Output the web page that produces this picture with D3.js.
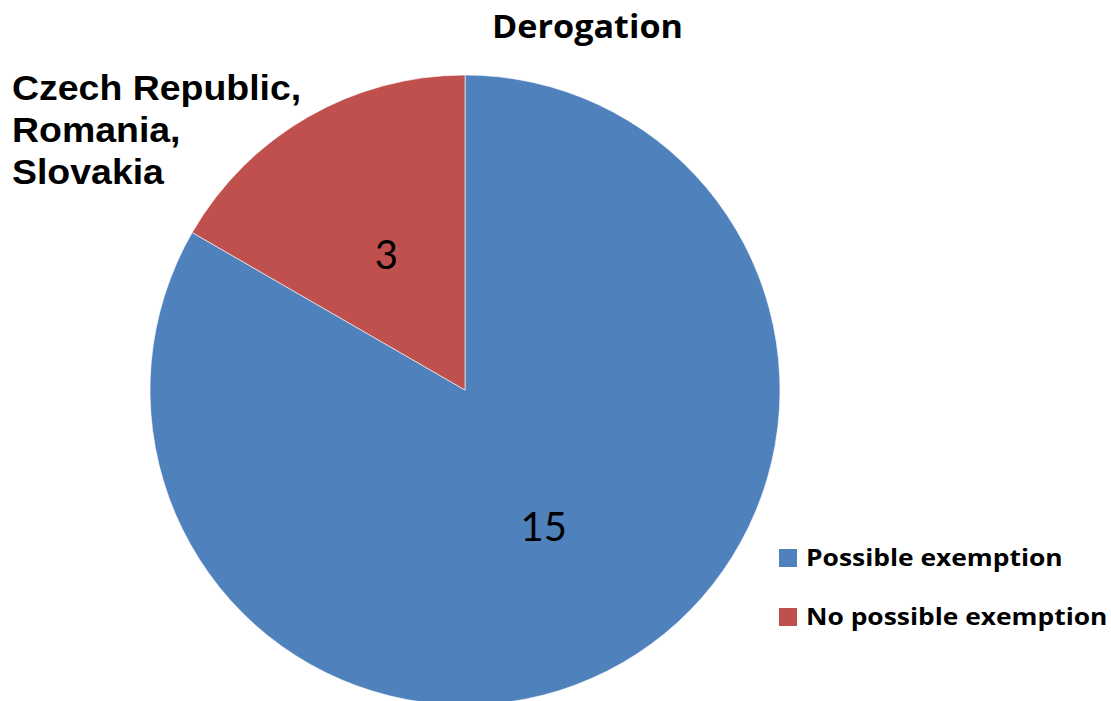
<!DOCTYPE html>
<html>
<head>
<meta charset="utf-8">
<script src="https://cdn.jsdelivr.net/npm/d3@7"></script>
<style>
html,body{margin:0;padding:0;background:#fff;}
svg{display:block;}
text{font-variant-ligatures:none;}
</style>
</head>
<body>
<svg id="chart" width="1111" height="701"></svg>
<script>
const categories = ["Possible exemption", "No possible exemption"];
const values = [15, 3];
const colors = ["#4F81BD", "#C0504D"];
const title = "Derogation";
const annotationLines = ["Czech Republic,", "Romania,", "Slovakia"];

const svg = d3.select("#chart");
const cx = 465, cy = 390, R = 315;

const data = categories.map((c, i) => ({ name: c, value: values[i], color: colors[i] }));
const pie = d3.pie().value(d => d.value).sort(null);
const arc = d3.arc().innerRadius(0).outerRadius(R);
const arcs = pie(data);

const g = svg.append("g").attr("transform", `translate(${cx},${cy})`);
g.selectAll("path").data(arcs).enter().append("path")
  .attr("d", arc)
  .attr("fill", d => d.data.color)
  .attr("stroke", "#ffffff")
  .attr("stroke-opacity", 0.6)
  .attr("stroke-width", 1);

g.selectAll("text.lbl").data(arcs).enter().append("text")
  .attr("class", "lbl")
  .attr("x", d => arc.centroid(d)[0])
  .attr("y", d => arc.centroid(d)[1])
  .attr("text-anchor", "middle")
  .attr("dominant-baseline", "central")
  .style("font-family", "Lato, 'Open Sans', sans-serif")
  .style("font-size", "40px")
  .attr("fill", "#000")
  .text(d => d.data.value);

svg.append("text")
  .attr("x", 587.5).attr("y", 38)
  .attr("text-anchor", "middle")
  .style("font-family", "'Open Sans', Lato, sans-serif")
  .style("font-weight", "bold")
  .style("font-size", "33px")
  .attr("textLength", 191)
  .attr("lengthAdjust", "spacingAndGlyphs")
  .attr("fill", "#000")
  .text(title);

const ann = svg.append("text")
  .style("font-family", "'Liberation Sans', Arial, sans-serif")
  .style("font-weight", "bold")
  .style("font-size", "35px")
  .attr("fill", "#000")
  .attr("transform", "translate(12,0) scale(1.07,1)");
annotationLines.forEach((t, i) => {
  ann.append("tspan").attr("x", 0).attr("y", 100 + i * 42).text(t);
});

const leg = svg.append("g").attr("transform", "translate(779,549)");
const items = leg.selectAll("g").data(data).enter().append("g")
  .attr("transform", (d, i) => `translate(0,${i * 59})`);
items.append("rect").attr("width", 18).attr("height", 18).attr("fill", d => d.color);
items.append("text")
  .attr("transform", "translate(27,17) scale(1.1,1)")
  .style("font-family", "'Open Sans', Lato, sans-serif")
  .style("font-weight", "bold")
  .style("font-size", "24px")
  .attr("fill", "#000")
  .text(d => d.name);
</script>
</body>
</html>
